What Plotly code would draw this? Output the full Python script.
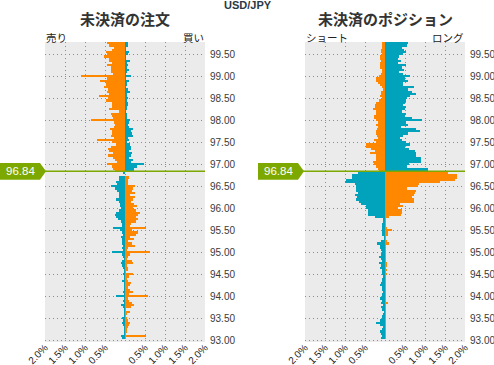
import plotly.graph_objects as go

# ---------------- data ----------------
# price levels (0.05 steps) above and below the current rate
upper_levels = [round(99.75 - 0.05 * i, 2) for i in range(59)]   # 99.75 .. 96.85
lower_levels = [round(96.80 - 0.05 * i, 2) for i in range(77)]   # 96.80 .. 93.00
current_rate = 96.84

# 未決済の注文 (open orders), % of total
orders_up_sell = [0.45, 0.40, 0.28, 0.32, 0.48, 0.44, 0.52, 0.40, 0.40, 0.33,
                  0.44, 0.36, 0.35, 0.36, 0.30, 1.10, 0.44, 0.62, 0.48, 0.48,
                  0.52, 0.42, 0.44, 0.40, 0.65, 0.42, 0.48, 0.32, 0.33, 0.32,
                  0.40, 0.15, 0.35, 0.32, 0.30, 0.85, 0.27, 0.25, 0.27, 0.37,
                  0.32, 0.32, 0.35, 0.27, 0.70, 0.33, 0.23, 0.36, 0.42, 0.40,
                  0.30, 0.43, 0.30, 0.25, 0.20, 0.44, 0.32, 0.30, 0.24]
orders_up_buy = [0.08, 0.08, 0.03, 0.02, 0.10, 0.08, 0.03, 0.02, 0.12, 0.06,
                 0.08, 0.06, 0.10, 0.06, 0.03, 0.15, 0.03, 0.10, 0.06, 0.06,
                 0.03, 0.08, 0.12, 0.06, 0.06, 0.08, 0.06, 0.07, 0.07, 0.06,
                 0.05, 0.03, 0.06, 0.06, 0.05, 0.13, 0.10, 0.08, 0.10, 0.20,
                 0.14, 0.18, 0.20, 0.08, 0.10, 0.06, 0.12, 0.15, 0.15, 0.10,
                 0.18, 0.15, 0.10, 0.20, 0.15, 0.48, 0.30, 0.23, 0.23]
orders_low_sell = [0.04, 0.00, 0.14, 0.16, 0.22, 0.20, 0.34, 0.24, 0.20, 0.14,
                   0.16, 0.16, 0.22, 0.15, 0.13, 0.12, 0.10, 0.15, 0.22, 0.25,
                   0.22, 0.18, 0.10, 0.08, 0.08, 0.30, 0.12, 0.08, 0.05, 0.10,
                   0.07, 0.08, 0.07, 0.05, 0.07, 0.05, 0.32, 0.08, 0.05, 0.02,
                   0.08, 0.10, 0.07, 0.05, 0.03, 0.03, 0.05, 0.03, 0.02, 0.07,
                   0.03, 0.02, 0.03, 0.02, 0.05, 0.03, 0.22, 0.03, 0.05, 0.03,
                   0.10, 0.05, 0.02, 0.03, 0.02, 0.03, 0.07, 0.05, 0.07, 0.05,
                   0.03, 0.03, 0.02, 0.02, 0.10, 0.07, 0.00]
orders_low_buy = [0.00, 0.00, 0.10, 0.08, 0.07, 0.07, 0.24, 0.20, 0.18, 0.24,
                  0.12, 0.24, 0.20, 0.15, 0.23, 0.30, 0.20, 0.27, 0.37, 0.33,
                  0.27, 0.33, 0.28, 0.15, 0.12, 0.52, 0.18, 0.33, 0.27, 0.12,
                  0.22, 0.08, 0.18, 0.25, 0.08, 0.06, 0.62, 0.12, 0.08, 0.05,
                  0.18, 0.20, 0.05, 0.07, 0.08, 0.03, 0.20, 0.10, 0.05, 0.08,
                  0.15, 0.12, 0.07, 0.12, 0.20, 0.10, 0.57, 0.08, 0.10, 0.17,
                  0.22, 0.15, 0.03, 0.12, 0.05, 0.03, 0.05, 0.08, 0.12, 0.10,
                  0.07, 0.05, 0.05, 0.03, 0.52, 0.03, 0.00]

# 未決済のポジション (open positions), % of total
pos_up_short = [0.07, 0.07, 0.08, 0.10, 0.10, 0.07, 0.12, 0.13, 0.10, 0.12,
                0.13, 0.12, 0.08, 0.08, 0.10, 0.15, 0.22, 0.22, 0.17, 0.12,
                0.07, 0.05, 0.10, 0.10, 0.12, 0.07, 0.15, 0.22, 0.25, 0.25,
                0.30, 0.23, 0.22, 0.27, 0.28, 0.22, 0.18, 0.23, 0.18, 0.20,
                0.22, 0.22, 0.20, 0.17, 0.27, 0.22, 0.48, 0.48, 0.35, 0.25,
                0.38, 0.23, 0.23, 0.23, 0.30, 0.28, 0.22, 0.18, 0.15]
pos_up_long = [0.57, 0.55, 0.43, 0.48, 0.52, 0.45, 0.35, 0.33, 0.39, 0.33,
               0.53, 0.42, 0.47, 0.35, 0.45, 0.62, 0.50, 0.57, 0.45, 0.45,
               0.72, 0.57, 0.68, 0.77, 0.63, 0.55, 0.52, 0.50, 0.45, 0.53,
               0.50, 0.43, 0.53, 0.50, 0.67, 0.92, 0.53, 0.57, 0.40, 0.77,
               0.87, 0.57, 0.45, 0.38, 0.43, 0.53, 0.63, 0.50, 0.60, 0.75,
               0.78, 0.78, 0.90, 0.90, 0.90, 0.60, 0.55, 1.07, 1.07]
pos_low_long = [0.67, 0.82, 0.83, 0.98, 1.00, 0.75, 0.73, 0.72, 0.73, 0.68,
                0.75, 0.70, 0.73, 0.65, 0.60, 0.47, 0.48, 0.43, 0.42, 0.42,
                0.25, 0.05, 0.05, 0.07, 0.07, 0.08, 0.08, 0.08, 0.07, 0.03,
                0.03, 0.10, 0.20, 0.13, 0.12, 0.10, 0.08, 0.10, 0.15, 0.10,
                0.07, 0.15, 0.10, 0.13, 0.07, 0.08, 0.08, 0.05, 0.08, 0.07,
                0.10, 0.12, 0.08, 0.07, 0.05, 0.07, 0.08, 0.12, 0.07, 0.10,
                0.05, 0.10, 0.08, 0.03, 0.05, 0.07, 0.08, 0.12, 0.22, 0.12,
                0.05, 0.08, 0.12, 0.10, 0.08, 0.10, 0.00]
pos_low_short = [1.57, 1.80, 1.80, 1.75, 1.37, 0.85, 0.83, 0.55, 0.78, 0.75,
                 0.73, 0.68, 0.73, 0.72, 0.37, 0.45, 0.33, 0.43, 0.43, 0.40,
                 0.10, 0.03, 0.02, 0.02, 0.03, 0.05, 0.17, 0.08, 0.07, 0.03,
                 0.03, 0.05, 0.10, 0.03, 0.03, 0.03, 0.03, 0.02, 0.03, 0.02,
                 0.03, 0.05, 0.05, 0.03, 0.05, 0.03, 0.05, 0.03, 0.03, 0.03,
                 0.02, 0.03, 0.02, 0.03, 0.02, 0.03, 0.02, 0.03, 0.02, 0.07,
                 0.03, 0.03, 0.02, 0.02, 0.03, 0.03, 0.02, 0.03, 0.03, 0.02,
                 0.03, 0.02, 0.03, 0.03, 0.03, 0.03, 0.00]

x_tickvals = [-2.0, -1.5, -1.0, -0.5, 0.0, 0.5, 1.0, 1.5, 2.0]
x_ticktext = ["2.0%", "1.5%", "1.0%", "0.5%", "", "0.5%", "1.0%", "1.5%", "2.0%"]
y_tickvals = [93.0 + 0.5 * i for i in range(14)]
y_ticktext = [f"{v:.2f}" for v in y_tickvals]

ORANGE = "#FF8800"
TEAL = "#00A3BB"
GREEN = "#7DA800"
W, H = 494, 365

levels = upper_levels + lower_levels
fig = go.Figure()

def add_panel(xa, ya, up_left, up_right, low_left, low_right):
    orange = [-v for v in up_left] + list(low_right)
    teal = list(up_right) + [-v for v in low_left]
    for vals, col in ((orange, ORANGE), (teal, TEAL)):
        fig.add_trace(go.Bar(x=vals, y=levels, orientation="h", width=0.05,
                             marker=dict(color=col, line=dict(width=0)),
                             xaxis=xa, yaxis=ya, showlegend=False,
                             hoverinfo="skip"))

add_panel("x", "y", orders_up_sell, orders_up_buy, orders_low_sell, orders_low_buy)
add_panel("x2", "y2", pos_up_short, pos_up_long, pos_low_long, pos_low_short)

num_font = dict(family="Liberation Sans, Arial, sans-serif", size=10, color="#3a3a3a")
xt_font = dict(family="Liberation Sans, Arial, sans-serif", size=10, color="#222")
panels = [(45, 205, "x", "y"), (305, 465, "x2", "y2")]
y_dom = [23 / H, 323 / H]
GRID = "#8c8c8c"
DOT = "1px,3px"

axcommon = dict(range=[-2.0, 2.0], tickvals=x_tickvals, ticktext=x_ticktext,
                tickangle=-45, showgrid=True, gridcolor=GRID, griddash=DOT,
                gridwidth=1, zeroline=False, showline=False, ticks="",
                tickfont=xt_font, ticklabelstandoff=-3, fixedrange=True,
                automargin=False)
aycommon = dict(range=[92.96, 99.78], tickvals=y_tickvals, ticktext=y_ticktext,
                side="right", showgrid=True, gridcolor=GRID, griddash=DOT,
                gridwidth=1, zeroline=False, showline=False, ticks="",
                tickfont=num_font, ticklabelstandoff=4, fixedrange=True,
                automargin=False)

fig.update_layout(
    template="none",
    xaxis=dict(domain=[45 / W, 205 / W], anchor="y", **axcommon),
    yaxis=dict(domain=y_dom, anchor="x", **aycommon),
    xaxis2=dict(domain=[305 / W, 465 / W], anchor="y2", **axcommon),
    yaxis2=dict(domain=y_dom, anchor="x2", **aycommon),
    barmode="overlay", bargap=0,
    width=W, height=H, margin=dict(l=0, r=0, t=0, b=0, pad=0),
    paper_bgcolor="white", plot_bgcolor="#EBEBEB",
)

jp = "Noto Sans CJK JP, sans-serif"
shapes, annots = [], []
half = 0.19
for (x0, x1, xa, ya), box_left in zip(panels, (0, 258)):
    shapes.append(dict(type="line", xref="paper", yref=ya,
                       x0=box_left / W, x1=x1 / W, y0=current_rate, y1=current_rate,
                       line=dict(color=GREEN, width=1.5), layer="above"))
    bx0, bx1, tip = box_left / W, (box_left + 40) / W, (box_left + 46) / W
    path = (f"M {bx0},{current_rate + half} L {bx1},{current_rate + half} "
            f"L {tip},{current_rate} L {bx1},{current_rate - half} "
            f"L {bx0},{current_rate - half} Z")
    shapes.append(dict(type="path", xref="paper", yref=ya, path=path,
                       fillcolor=GREEN, line=dict(width=0), layer="above"))
    annots.append(dict(xref="paper", yref=ya, x=(box_left + 20) / W, y=current_rate,
                       text=f"{current_rate:.2f}", showarrow=False,
                       font=dict(family="Liberation Sans, Arial, sans-serif",
                                 size=11.5, color="white"),
                       xanchor="center", yanchor="middle"))

def txt(x, y, s, size, anchor="center", bold=False, family=jp, color="#333"):
    annots.append(dict(xref="paper", yref="paper", x=x / W, y=1 - y / H,
                       text=f"<b>{s}</b>" if bold else s, showarrow=False,
                       font=dict(family=family, size=size, color=color),
                       xanchor=anchor, yanchor="middle"))

txt(248, 5, "USD/JPY", 11, bold=True,
    family="Liberation Sans, Arial, sans-serif", color="#2b3845")
txt(125, 18, "未決済の注文", 15, bold=True)
txt(385, 18, "未決済のポジション", 15, bold=True)
txt(44, 37, "売り", 10.5, anchor="left", color="#222")
txt(206, 37, "買い", 10.5, anchor="right", color="#222")
txt(304, 37, "ショート", 10.5, anchor="left", color="#222")
txt(466, 37, "ロング", 10.5, anchor="right", color="#222")

fig.update_layout(shapes=shapes, annotations=annots)
fig.write_html("out.html",
               config={"displayModeBar": False, "staticPlot": True},
               post_script="document.body.style.margin='0px';"
                           "document.body.style.overflow='hidden';")
